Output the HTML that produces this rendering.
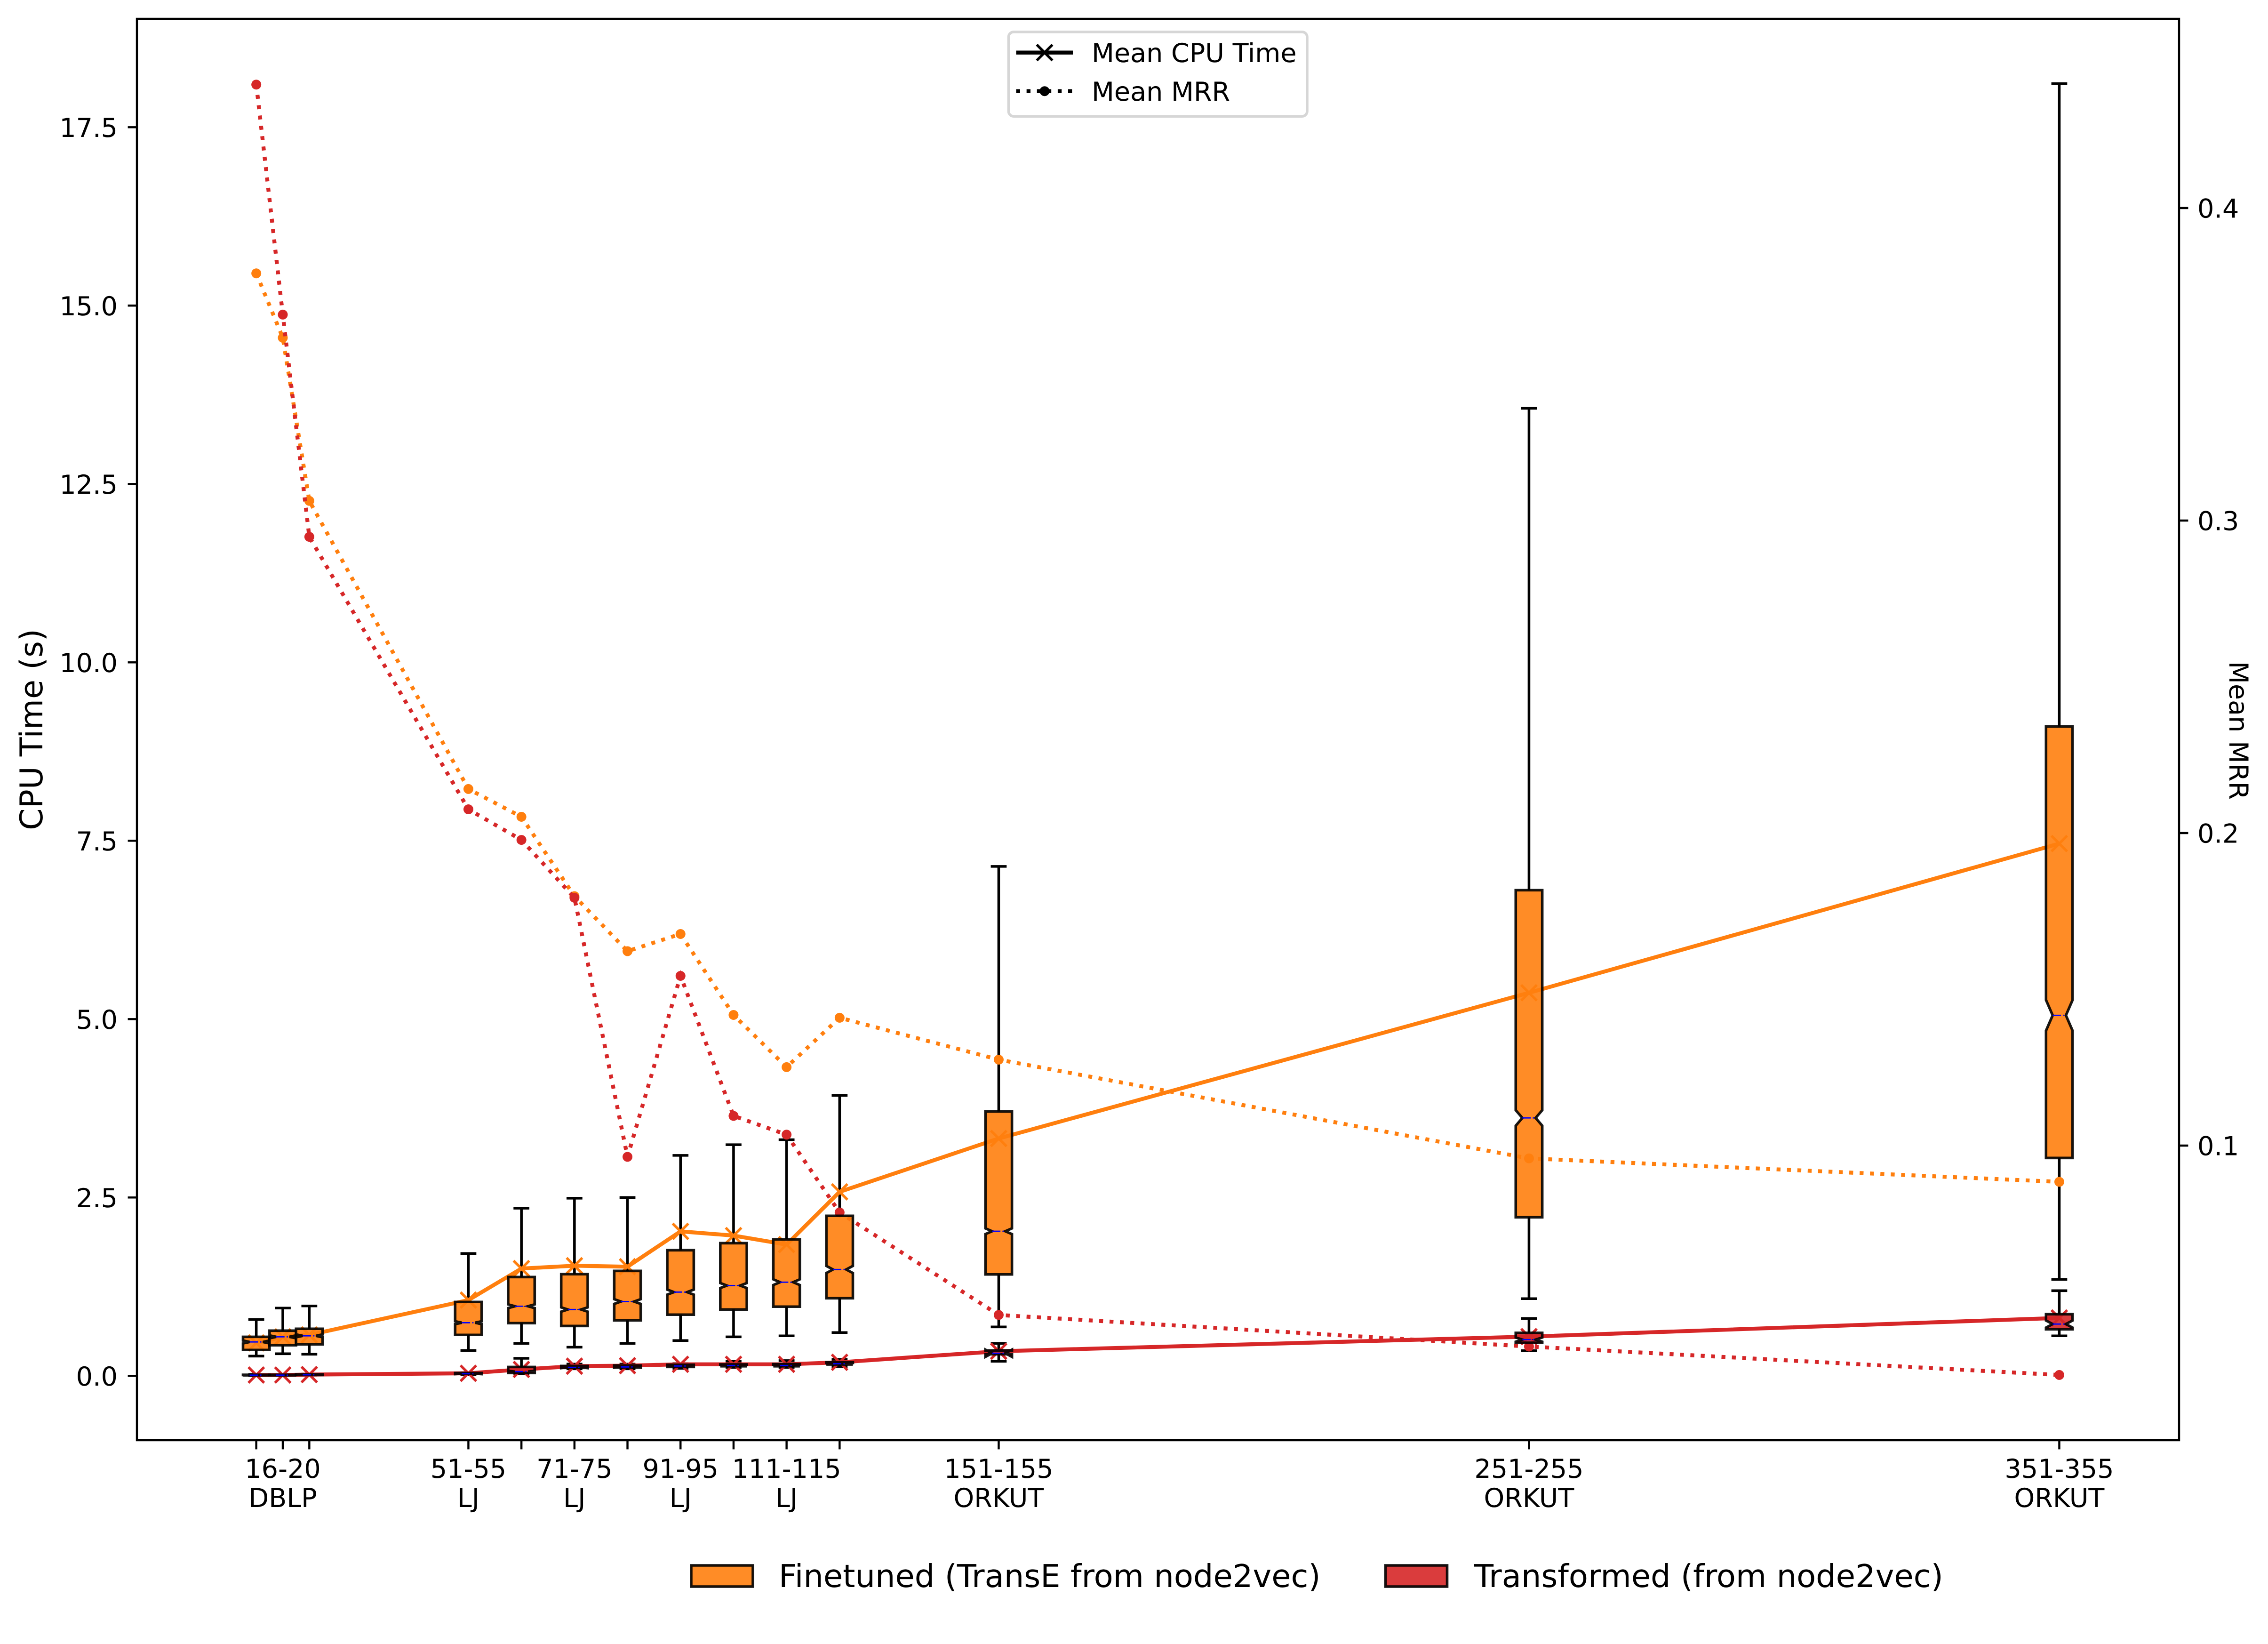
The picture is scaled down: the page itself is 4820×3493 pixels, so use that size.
<!DOCTYPE html>
<html lang="en">
<head>
<meta charset="utf-8">
<title>CPU Time and Mean MRR</title>
<style>
html,body{margin:0;padding:0;background:#fff;}
svg{display:block;position:absolute;left:0;top:0;}
text{font-family:"DejaVu Sans","Liberation Sans",sans-serif;fill:#000;text-rendering:geometricPrecision;}
</style>
</head>
<body>
<svg id="chart" xmlns="http://www.w3.org/2000/svg" width="4820" height="3493" viewBox="0 0 4820 3493">
  <rect x="0" y="0" width="4820" height="3493" fill="#fff"/>
  <g id="marks"></g>
  <g id="axes"></g>
  <text x="0" y="0" transform="translate(90 1550) rotate(-90)" text-anchor="middle" font-size="66.67">CPU Time (s)</text>
  <text x="0" y="0" transform="translate(4738 1552) rotate(90)" text-anchor="middle" font-size="55.56">Mean MRR</text>
  <g>
    <rect x="2143.4" y="67.8" width="634.6" height="179.4" rx="11" ry="11" fill="#fff" fill-opacity="0.8" stroke="#ccc" stroke-opacity="0.8" stroke-width="5.56"/>
    <line x1="2159.6" y1="111.7" x2="2280" y2="111.7" stroke="#000" stroke-width="8.33"/>
    <path d="M2203.4 95 L2236.6 128.4 M2203.4 128.4 L2236.6 95" stroke="#000" stroke-width="5.56" fill="none"/>
    <text x="2320" y="132" font-size="55.56">Mean CPU Time</text>
    <line x1="2159.6" y1="193.7" x2="2280" y2="193.7" stroke="#000" stroke-width="8.33" stroke-dasharray="8.33 13.75"/>
    <circle cx="2220" cy="193.7" r="10.5" fill="#000"/>
    <text x="2320" y="214" font-size="55.56">Mean MRR</text>
  </g>
  <g>
    <rect x="1469" y="3326" width="131" height="45" fill="#ff7f0e" fill-opacity="0.9" stroke="#000" stroke-opacity="0.9" stroke-width="5.56"/>
    <text x="1655" y="3372" font-size="67.1">Finetuned (TransE from node2vec)</text>
    <rect x="2944.5" y="3326" width="131" height="45" fill="#d62728" fill-opacity="0.9" stroke="#000" stroke-opacity="0.9" stroke-width="5.56"/>
    <text x="3133" y="3372" font-size="67.1">Transformed (from node2vec)</text>
  </g>
</svg>
<script>
const binCenters = [13, 18, 23, 53, 63, 73, 83, 93, 103, 113, 123, 153, 253, 353];
const binLabels = ['', '16-20', '', '51-55', '', '71-75', '', '91-95', '', '111-115', '', '151-155', '251-255', '351-355'];
const datasetLabels = ['', 'DBLP', '', 'LJ', '', 'LJ', '', 'LJ', '', 'LJ', '', 'ORKUT', 'ORKUT', 'ORKUT'];
const cpuTicks = [0, 2.5, 5, 7.5, 10, 12.5, 15, 17.5];
const cpuTickLabels = ['0.0', '2.5', '5.0', '7.5', '10.0', '12.5', '15.0', '17.5'];
const mrrTicks = [0.1, 0.2, 0.3, 0.4];
const mrrTickLabels = ['0.1', '0.2', '0.3', '0.4'];

const finetunedWhiskerHigh = [0.79, 0.95, 0.98, 1.715, 2.35, 2.49, 2.50, 3.09, 3.24, 3.31, 3.93, 7.14, 13.56, 18.11];
const finetunedWhiskerLow = [0.277, 0.31, 0.303, 0.356, 0.455, 0.402, 0.455, 0.495, 0.547, 0.561, 0.607, 0.686, 1.082, 1.352];
const finetunedQ3 = [0.547, 0.633, 0.66, 1.036, 1.385, 1.425, 1.471, 1.761, 1.86, 1.913, 2.243, 3.705, 6.807, 9.10];
const finetunedQ1 = [0.363, 0.429, 0.442, 0.574, 0.739, 0.699, 0.778, 0.858, 0.93, 0.97, 1.088, 1.422, 2.223, 3.054];
const finetunedMedian = [0.475, 0.547, 0.561, 0.745, 0.976, 0.93, 1.042, 1.174, 1.266, 1.313, 1.491, 2.027, 3.615, 5.053];
const finetunedNotch = [0.02, 0.02, 0.02, 0.02, 0.026, 0.03, 0.033, 0.035, 0.035, 0.04, 0.05, 0.04, 0.109, 0.214];
const finetunedMeanCpu = [0.462, 0.547, 0.574, 1.062, 1.504, 1.544, 1.53, 2.025, 1.966, 1.84, 2.579, 3.327, 5.369, 7.46];
const finetunedMrr = [0.3791, 0.3585, 0.3063, 0.2141, 0.2052, 0.1798, 0.1622, 0.1677, 0.1418, 0.1251, 0.1409, 0.1275, 0.0959, 0.0884];

const transformedWhiskerHigh = [0.02, 0.02, 0.026, 0.045, 0.246, 0.165, 0.165, 0.172, 0.204, 0.214, 0.231, 0.455, 0.805, 1.194];
const transformedWhiskerLow = [0.005, 0.005, 0.01, 0.02, 0.033, 0.099, 0.099, 0.106, 0.119, 0.119, 0.132, 0.204, 0.353, 0.561];
const transformedQ3 = [0.015, 0.015, 0.02, 0.04, 0.125, 0.139, 0.145, 0.155, 0.16, 0.165, 0.19, 0.356, 0.603, 0.864];
const transformedQ1 = [0.008, 0.008, 0.012, 0.027, 0.04, 0.112, 0.118, 0.125, 0.135, 0.135, 0.16, 0.303, 0.464, 0.653];
const transformedMedian = [0.01, 0.01, 0.015, 0.03, 0.06, 0.119, 0.125, 0.138, 0.145, 0.145, 0.17, 0.317, 0.508, 0.726];
const transformedNotch = [0.002, 0.002, 0.002, 0.005, 0.01, 0.01, 0.01, 0.01, 0.01, 0.01, 0.01, 0.05, 0.03, 0.05];
const transformedMeanCpu = [0.012, 0.012, 0.018, 0.036, 0.09, 0.136, 0.143, 0.162, 0.162, 0.162, 0.19, 0.345, 0.55, 0.812];
const transformedMrr = [0.4395, 0.3659, 0.2948, 0.2076, 0.1978, 0.1793, 0.0964, 0.1543, 0.1095, 0.1035, 0.0786, 0.0458, 0.0357, 0.0266];

const boxWidthUnits = 5;
const NS = 'http://www.w3.org/2000/svg';
const marks = document.getElementById('marks');
const axes = document.getElementById('axes');
const plotLeft = 291, plotRight = 4631, plotTop = 40, plotBottom = 3060;

function xScale(v) { return 601 + (v - 18) * 11.27; }
function cpuY(v) { return 2923.3 - v * 151.6; }
function mrrY(v) { return 2434 - (v - 0.1) * 6640; }

function make(parent, tag, attrs, text) {
  const el = document.createElementNS(NS, tag);
  for (const k in attrs) el.setAttribute(k, attrs[k]);
  if (text !== undefined) el.textContent = text;
  parent.appendChild(el);
  return el;
}

const boxW = boxWidthUnits * 11.27;

function drawWhiskers(name, hi, lo, q3, q1) {
  binCenters.forEach(function (c, i) {
    const x = xScale(c);
    const d = 'M' + x + ' ' + cpuY(q3[i]) + 'L' + x + ' ' + cpuY(hi[i]) +
      'M' + x + ' ' + cpuY(q1[i]) + 'L' + x + ' ' + cpuY(lo[i]);
    const w = make(marks, 'path', { d: d, stroke: '#000', 'stroke-width': 5.56, fill: 'none' });
    
    
    const capD = 'M' + (x - boxW / 4 - 2.78) + ' ' + cpuY(hi[i]) + 'L' + (x + boxW / 4 + 2.78) + ' ' + cpuY(hi[i]) +
      'M' + (x - boxW / 4 - 2.78) + ' ' + cpuY(lo[i]) + 'L' + (x + boxW / 4 + 2.78) + ' ' + cpuY(lo[i]);
    const cap = make(marks, 'path', { d: capD, stroke: '#000', 'stroke-width': 5.56, fill: 'none' });
    
    
  });
}

function drawMeanLine(name, values, color) {
  const pts = binCenters.map(function (c, i) { return xScale(c) + ',' + cpuY(values[i]); }).join(' ');
  const line = make(marks, 'polyline', { points: pts, fill: 'none', stroke: color, 'stroke-width': 8.33, 'stroke-linejoin': 'round' });
  
  
  binCenters.forEach(function (c, i) {
    const x = xScale(c), y = cpuY(values[i]), s = 16.67;
    const d = 'M' + (x - s) + ' ' + (y - s) + 'L' + (x + s) + ' ' + (y + s) + 'M' + (x - s) + ' ' + (y + s) + 'L' + (x + s) + ' ' + (y - s);
    const m = make(marks, 'path', { d: d, stroke: color, 'stroke-width': 5.56, fill: 'none' });
    
    
  });
}

function drawMrrLine(name, values, color) {
  const pts = binCenters.map(function (c, i) { return xScale(c) + ',' + mrrY(values[i]); }).join(' ');
  const line = make(marks, 'polyline', { points: pts, fill: 'none', stroke: color, 'stroke-width': 8.33, 'stroke-dasharray': '8.33 13.75' });
  
  
  binCenters.forEach(function (c, i) {
    const dot = make(marks, 'circle', { cx: xScale(c), cy: mrrY(values[i]), r: 10.5, fill: color });
    
    
  });
}

function drawBoxes(name, q3, q1, med, notch, color) {
  binCenters.forEach(function (c, i) {
    const x = xScale(c), h = boxW / 2, q = boxW / 4;
    const yQ1 = cpuY(q1[i]), yQ3 = cpuY(q3[i]), yM = cpuY(med[i]);
    const yLo = cpuY(med[i] - notch[i]), yHi = cpuY(med[i] + notch[i]);
    const d = 'M' + (x - h) + ' ' + yQ1 + 'L' + (x + h) + ' ' + yQ1 + 'L' + (x + h) + ' ' + yLo +
      'L' + (x + q) + ' ' + yM + 'L' + (x + h) + ' ' + yHi + 'L' + (x + h) + ' ' + yQ3 +
      'L' + (x - h) + ' ' + yQ3 + 'L' + (x - h) + ' ' + yHi + 'L' + (x - q) + ' ' + yM +
      'L' + (x - h) + ' ' + yLo + 'Z';
    const box = make(marks, 'path', { d: d, fill: color, 'fill-opacity': 0.9, stroke: '#000', 'stroke-opacity': 0.9, 'stroke-width': 5.56 });
    
    
  });
}

function drawMedians(name, med) {
  binCenters.forEach(function (c, i) {
    const x = xScale(c), q = boxW / 4, y = cpuY(med[i]);
    const ml = make(marks, 'line', { x1: x - q, y1: y, x2: x + q, y2: y, stroke: '#0000ff', 'stroke-width': 2.78, 'stroke-dasharray': '17.8 4.4 2.8 4.4' });
    
    
  });
}

drawWhiskers('finetuned', finetunedWhiskerHigh, finetunedWhiskerLow, finetunedQ3, finetunedQ1);
drawWhiskers('transformed', transformedWhiskerHigh, transformedWhiskerLow, transformedQ3, transformedQ1);
drawMeanLine('finetuned', finetunedMeanCpu, '#ff7f0e');
drawMeanLine('transformed', transformedMeanCpu, '#d62728');
drawMrrLine('finetuned', finetunedMrr, '#ff7f0e');
drawMrrLine('transformed', transformedMrr, '#d62728');
drawBoxes('finetuned', finetunedQ3, finetunedQ1, finetunedMedian, finetunedNotch, '#ff7f0e');
drawBoxes('transformed', transformedQ3, transformedQ1, transformedMedian, transformedNotch, '#d62728');
drawMedians('finetuned', finetunedMedian);
drawMedians('transformed', transformedMedian);

const frame = make(axes, 'rect', { x: plotLeft, y: plotTop, width: plotRight - plotLeft, height: plotBottom - plotTop, fill: 'none', stroke: '#000', 'stroke-width': 4.44 });



cpuTicks.forEach(function (v, i) {
  const y = cpuY(v);
  const t = make(axes, 'line', { x1: plotLeft, y1: y, x2: plotLeft - 19.4, y2: y, stroke: '#000', 'stroke-width': 4.44 });
  
  
  const l = make(axes, 'text', { x: 250, y: y + 20.5, 'text-anchor': 'end', 'font-size': 55.56 }, cpuTickLabels[i]);
  
  
});

mrrTicks.forEach(function (v, i) {
  const y = mrrY(v);
  const t = make(axes, 'line', { x1: plotRight, y1: y, x2: plotRight + 19.4, y2: y, stroke: '#000', 'stroke-width': 4.44 });
  
  
  const l = make(axes, 'text', { x: 4670, y: y + 20.5, 'font-size': 55.56 }, mrrTickLabels[i]);
  
  
});

binCenters.forEach(function (c, i) {
  const x = xScale(c);
  const t = make(axes, 'line', { x1: x, y1: plotBottom, x2: x, y2: plotBottom + 19.4, stroke: '#000', 'stroke-width': 4.44 });
  
  
  if (binLabels[i]) {
    const a = make(axes, 'text', { x: x, y: 3140, 'text-anchor': 'middle', 'font-size': 55.56 }, binLabels[i]);
    
    
    const b = make(axes, 'text', { x: x, y: 3202, 'text-anchor': 'middle', 'font-size': 55.56 }, datasetLabels[i]);
    
    
  }
});
</script>
</body>
</html>
